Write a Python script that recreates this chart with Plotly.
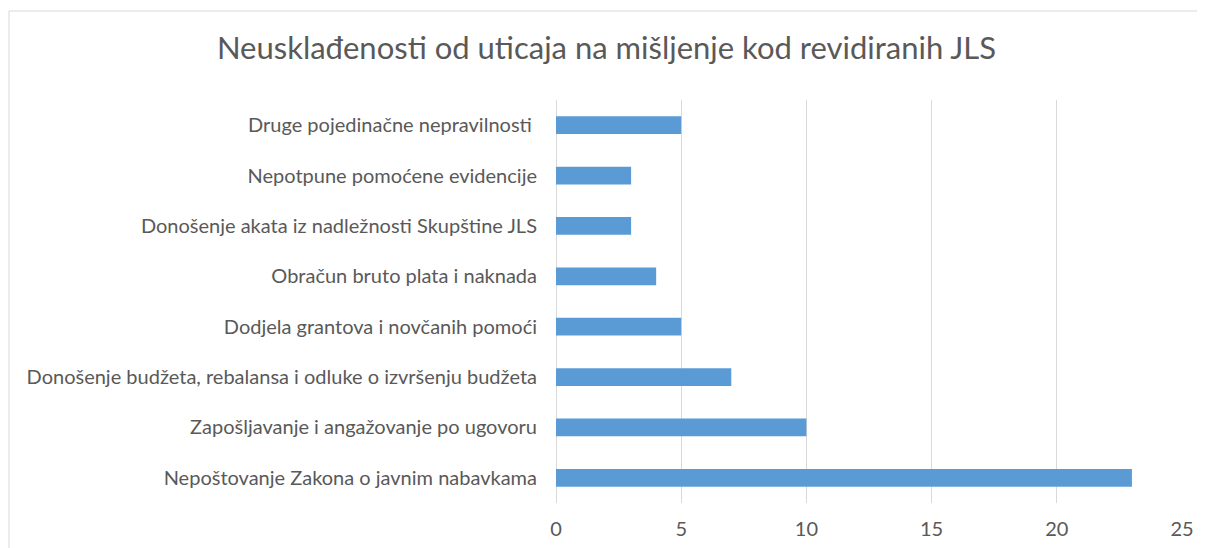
import plotly.graph_objects as go

title = "Neusklađenosti od uticaja na mišljenje kod revidiranih JLS"

categories = [
    "Nepoštovanje Zakona o javnim nabavkama",
    "Zapošljavanje i angažovanje po ugovoru",
    "Donošenje budžeta, rebalansa i odluke o izvršenju budžeta",
    "Dodjela grantova i novčanih pomoći",
    "Obračun bruto plata i naknada",
    "Donošenje akata iz nadležnosti Skupštine JLS",
    "Nepotpune pomoćene evidencije",
    "Druge pojedinačne nepravilnosti\u00a0",
]
values = [23, 10, 7, 5, 4, 3, 3, 5]

x_ticks = [0, 5, 10, 15, 20, 25]

FONT = "Lato, Calibri, 'Open Sans', sans-serif"

# the page puts the plot 8px in from the top-left corner (body margin)
fig = go.Figure()
fig.add_trace(
    go.Bar(
        x=values,
        y=categories,
        orientation="h",
        marker=dict(color="#5b9bd5", line=dict(width=0)),
        hoverinfo="x+y",
    )
)

fig.update_layout(
    width=1197,
    height=540,
    autosize=False,
    margin=dict(l=548, r=23, t=92, b=45),
    paper_bgcolor="white",
    plot_bgcolor="white",
    showlegend=False,
    bargap=0.65,
    title=dict(
        text=title,
        x=0.5,
        xref="container",
        xanchor="center",
        y=1 - 40 / 540,
        yref="container",
        yanchor="middle",
        font=dict(family=FONT, size=31, color="#595959"),
    ),
    font=dict(family=FONT, color="#595959"),
    shapes=[
        dict(
            type="rect",
            xref="paper",
            yref="paper",
            x0=-(548 - 1) / 626,
            x1=1.2,
            y0=-0.3,
            y1=1 + (92 - 3) / 403,
            line=dict(color="#d9d9d9", width=1),
            fillcolor="rgba(0,0,0,0)",
            layer="below",
        )
    ],
)

fig.update_xaxes(
    range=[0, 25],
    tickvals=x_ticks,
    ticktext=[str(v) for v in x_ticks],
    showgrid=True,
    gridcolor="#d9d9d9",
    gridwidth=1,
    zeroline=True,
    zerolinecolor="#d9d9d9",
    zerolinewidth=1,
    showline=False,
    ticks="",
    automargin=False,
    tickfont=dict(family=FONT, size=20, color="#595959"),
    ticklabelstandoff=12,
)
fig.update_yaxes(
    showgrid=False,
    zeroline=False,
    showline=False,
    ticks="",
    automargin=False,
    tickfont=dict(family=FONT, size=20, color="#595959"),
    ticklabelstandoff=18,
)

fig.write_html("out.html")
